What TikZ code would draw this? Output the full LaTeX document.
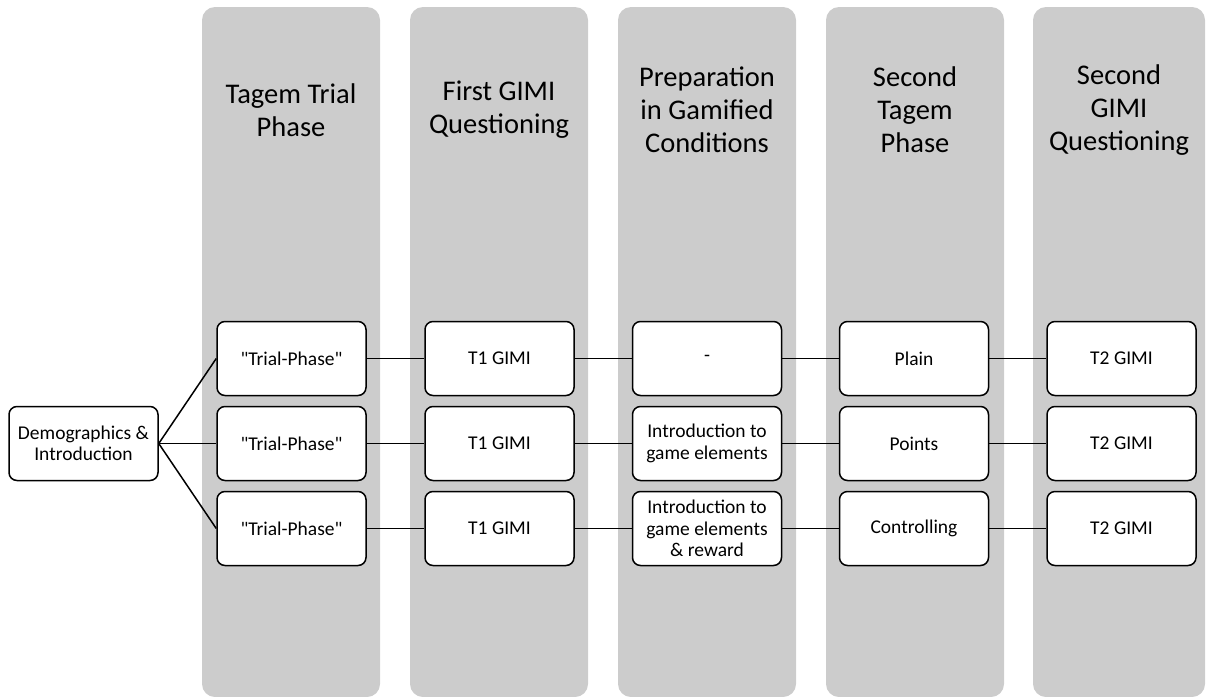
\documentclass[tikz,border=0pt]{standalone}
\usepackage{fontspec}
\newfontfamily\calfont{Carlito}
\definecolor{phasegray}{RGB}{204,204,204}
\begin{document}
\begin{tikzpicture}[x=1pt,y=-1pt,
        phase/.style={rectangle, rounded corners=13pt, fill=phasegray, minimum width=178pt, minimum height=690pt, inner sep=0pt},
        title/.style={align=center, font=\calfont\fontsize{28.5}{33}\selectfont},
        stepbox/.style={draw, line width=1.5pt, rounded corners=8pt, fill=white, minimum width=149pt, minimum height=74pt, inner sep=0pt, align=center, font=\calfont\fontsize{19.5}{21.5}\selectfont},
        link/.style={line width=1.5pt}]
        \useasboundingbox (0,0) rectangle (1206,696);

        % Phase columns
        \node[phase] (P1) at (291,352) {};
        \node[phase] (P2) at (499,352) {};
        \node[phase] (P3) at (707,352) {};
        \node[phase] (P4) at (915,352) {};
        \node[phase, minimum width=172pt] (P5) at (1119,352) {};

        % Column titles
        \node[title] (T1) at (291,110) {Tagem Trial\\Phase};
        \node[title] (T2) at (499,110) {First GIMI\\Questioning};
        \node[title] (T3) at (707,110) {Preparation\\in Gamified\\Conditions};
        \node[title] (T4) at (915,110) {Second\\Tagem\\Phase};
        \node[title] (T5) at (1119,110) {Second\\GIMI\\Questioning};

        % Start
        \node[stepbox] (demo) at (83.5,443.5) {Demographics \&\\Introduction};

        % Row a
        \node[stepbox] (a1) at (291.5,358.5) {"Trial-Phase"};
        \node[stepbox] (a2) at (499.5,358.5) {T1 GIMI};
        \node[stepbox] (a3) at (707,358.5) {-};
        \node[stepbox] (a4) at (914,358.5) {Plain};
        \node[stepbox] (a5) at (1121.5,358.5) {T2 GIMI};

        % Row b
        \node[stepbox] (b1) at (291.5,443.5) {"Trial-Phase"};
        \node[stepbox] (b2) at (499.5,443.5) {T1 GIMI};
        \node[stepbox] (b3) at (707,443.5) {Introduction to\\game elements};
        \node[stepbox] (b4) at (914,443.5) {Points};
        \node[stepbox] (b5) at (1121.5,443.5) {T2 GIMI};

        % Row c
        \node[stepbox] (c1) at (291.5,528.5) {"Trial-Phase"};
        \node[stepbox] (c2) at (499.5,528.5) {T1 GIMI};
        \node[stepbox] (c3) at (707,528.5) {Introduction to\\game elements\\\& reward};
        \node[stepbox] (c4) at (914,528.5) {Controlling};
        \node[stepbox] (c5) at (1121.5,528.5) {T2 GIMI};

        % Links
        \foreach \r in {a,b,c} {
            \draw[link] (demo.east) -- (\r1.west);
            \draw[link] (\r1) -- (\r2);
            \draw[link] (\r2) -- (\r3);
            \draw[link] (\r3) -- (\r4);
            \draw[link] (\r4) -- (\r5);
        }
    \end{tikzpicture}
\end{document}
